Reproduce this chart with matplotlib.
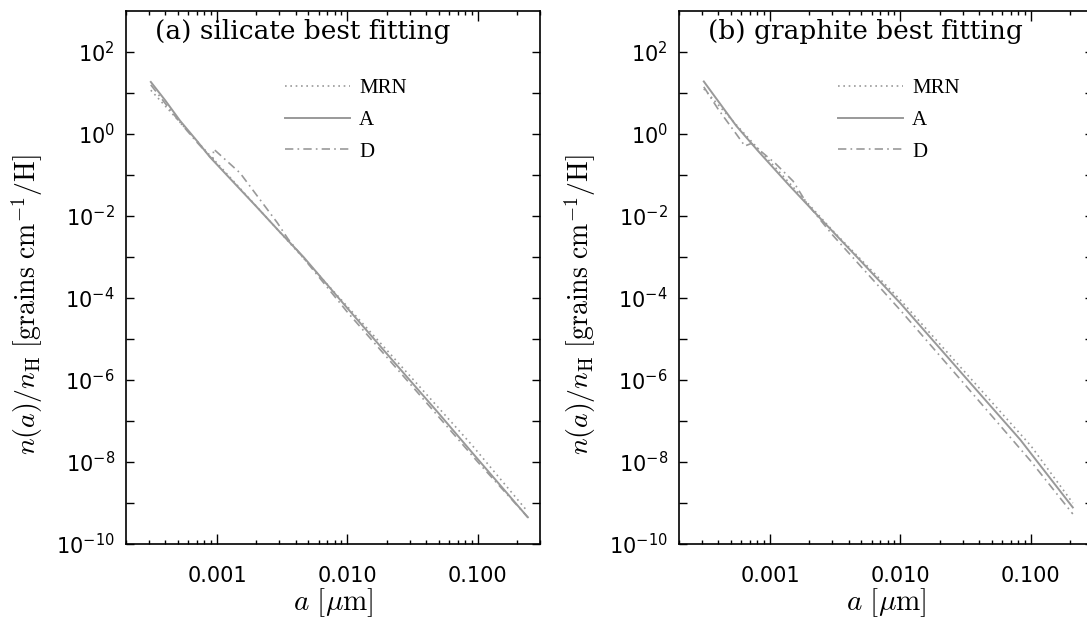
import matplotlib
matplotlib.use("Agg")
import matplotlib.pyplot as plt
from matplotlib.ticker import FixedLocator, NullFormatter, FuncFormatter, LogLocator

# ---------------- données ----------------
# (a) silicate
sil_a_mrn = [3.1e-4, 4.5e-4, 8.0e-4, 1.2e-3, 2.5e-3, 6.0e-3, 2.0e-2, 6.0e-2, 9.1e-2, 0.24]
sil_n_mrn = [11.7, 3.2, 0.42, 0.103, 7.9e-3, 3.7e-4, 5.4e-6, 1.1e-7, 2.5e-8, 6.3e-10]

sil_a_A = [3.1e-4, 4.0e-4, 5.2e-4, 7.0e-4, 8.8e-4, 1.3e-3, 2.0e-3, 3.0e-3, 4.6e-3,
           1.0e-2, 2.2e-2, 5.0e-2, 9.1e-2, 0.24]
sil_n_A = [18.6, 6.6, 2.1, 0.68, 0.275, 0.073, 0.017, 4.2e-3, 1.0e-3,
           5.6e-5, 3.1e-6, 1.55e-7, 1.66e-8, 4.6e-10]

sil_a_D = [3.1e-4, 5.2e-4, 7.0e-4, 9.3e-4, 9.4e-4, 1.5e-3, 2.9e-3, 3.5e-3,
           1.0e-2, 3.0e-2, 0.1, 0.245]
sil_n_D = [15.8, 1.9, 0.63, 0.234, 0.43, 0.112, 6.8e-3, 2.75e-3,
           4.5e-5, 8.3e-7, 1.0e-8, 4.3e-10]

# (b) graphite
gra_a_mrn = [3.1e-4, 5.0e-4, 1.0e-3, 3.0e-3, 1.0e-2, 3.0e-2, 0.1, 0.21]
gra_n_mrn = [12.6, 2.34, 0.21, 4.5e-3, 8.9e-5, 1.8e-6, 2.5e-8, 1.0e-9]

gra_a_A = [3.1e-4, 4.0e-4, 5.5e-4, 8.0e-4, 1.4e-3, 2.5e-3, 4.8e-3, 1.0e-2,
           3.0e-2, 8.3e-2, 0.21]
gra_n_A = [19.1, 6.3, 1.58, 0.40, 0.056, 7.9e-3, 8.9e-4, 7.4e-5,
           1.38e-6, 3.5e-8, 7.8e-10]

gra_a_D = [3.1e-4, 4.0e-4, 5.5e-4, 6.4e-4, 7.2e-4, 1.1e-3, 1.5e-3, 1.9e-3,
           3.0e-3, 1.0e-2, 3.0e-2, 0.1, 0.21]
gra_n_D = [14.1, 4.0, 1.0, 0.51, 0.59, 0.19, 0.071, 0.021,
           3.5e-3, 5.0e-5, 8.9e-7, 1.05e-8, 5.4e-10]

titres = ["(a) silicate best fitting", "(b) graphite best fitting"]
etiquettes = ["MRN", "A", "D"]

gris = "#999999"

fig = plt.figure(figsize=(10.87, 6.21), dpi=100)
ax1 = fig.add_axes([126 / 1087, 77 / 621, 414 / 1087, 533 / 621])
ax2 = fig.add_axes([679 / 1087, 77 / 621, 414 / 1087, 533 / 621])

donnees = [
    (ax1, sil_a_mrn, sil_n_mrn, sil_a_A, sil_n_A, sil_a_D, sil_n_D),
    (ax2, gra_a_mrn, gra_n_mrn, gra_a_A, gra_n_A, gra_a_D, gra_n_D),
]

for i, (ax, a_m, n_m, a_A, n_A, a_D, n_D) in enumerate(donnees):
    ax.plot(a_m, n_m, color=gris, lw=1.2, ls=(0, (1, 2.2)), label=etiquettes[0])
    ax.plot(a_A, n_A, color=gris, lw=1.4, ls="-", label=etiquettes[1])
    ax.plot(a_D, n_D, color=gris, lw=1.2, ls=(0, (5, 2.5, 1, 2.5)), label=etiquettes[2])

    ax.set_xscale("log")
    ax.set_yscale("log")
    ax.set_xlim(2.0e-4, 0.30)
    ax.set_ylim(1e-10, 1e3)

    # graduations x
    ax.xaxis.set_major_locator(FixedLocator([1e-3, 1e-2, 1e-1]))
    ax.xaxis.set_major_formatter(FuncFormatter(lambda v, p: "%.3f" % v))
    ax.xaxis.set_minor_locator(LogLocator(base=10, subs=range(2, 10), numticks=20))
    ax.xaxis.set_minor_formatter(NullFormatter())

    # graduations y : une sur deux avec étiquette
    ax.yaxis.set_major_locator(FixedLocator([10.0 ** k for k in range(-10, 3, 2)]))
    ax.yaxis.set_minor_locator(FixedLocator([10.0 ** k for k in range(-9, 3, 2)]))
    ax.yaxis.set_minor_formatter(NullFormatter())

    ax.tick_params(which="both", direction="in", top=True, right=True, width=1.0,
                   labelsize=15, colors="black")
    ax.tick_params(axis="x", which="major", length=7, pad=16)
    ax.tick_params(axis="x", which="minor", length=3)
    ax.tick_params(axis="y", which="both", length=6, pad=8)
    for s in ax.spines.values():
        s.set_linewidth(1.2)

    ax.text(0.07, 0.947, titres[i], transform=ax.transAxes, family="DejaVu Serif",
            fontsize=19, va="baseline", ha="left")

    ax.legend(loc="upper left", bbox_to_anchor=(0.384, 0.873), frameon=False,
              prop={"family": "Liberation Serif", "size": 15}, handlelength=3.1,
              handletextpad=0.45, labelspacing=0.58, borderpad=0, borderaxespad=0)

    ax.set_xlabel(r"$a\ [\mu{\rm m}]$", fontsize=21, math_fontfamily="cm", labelpad=0)
    ax.set_ylabel(r"$n(a)/n_{\rm H}\ [{\rm grains\ cm^{-1}/H}]$", fontsize=20,
                  math_fontfamily="cm")
    ax.yaxis.set_label_coords(-0.195, 0.45)

fig.savefig("out.png", dpi=100)
